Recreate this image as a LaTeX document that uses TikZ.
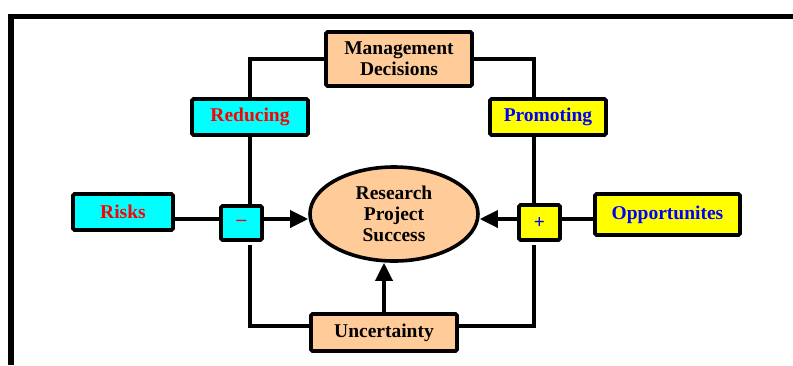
\documentclass[tikz,border=0pt]{standalone}
\usepackage{fontspec}
\setmainfont{Liberation Serif}
\usetikzlibrary{arrows.meta}
\usetikzlibrary{shapes.geometric}
\definecolor{peach}{RGB}{255,204,153}
\definecolor{aqua}{RGB}{0,255,255}
\definecolor{lemon}{RGB}{255,255,0}
\definecolor{ored}{RGB}{255,0,0}
\definecolor{oblue}{RGB}{0,0,255}

\begin{document}
\begin{tikzpicture}[x=1pt,y=-1pt,
	box/.style={draw,line width=3.6pt,rounded corners=1.5pt,inner sep=0pt,align=center,
		font=\fontsize{19.5}{21}\selectfont\bfseries},
	conn/.style={line width=3.6pt},
	arr/.style={line width=3.6pt,-{Triangle[length=18pt,width=17pt]}}]
	\useasboundingbox (0,0) rectangle (793,365);
	%	frame
	\draw[line width=5.5pt] (11,365) -- (11,16.5) -- (793,16.5);
	
	\node[box,fill=peach,minimum width=146,minimum height=54] (mgmt) at (399,59) {Management\\Decisions};
	\node[box,fill=aqua,text=ored,minimum width=116,minimum height=36] (red) at (250,117) {Reducing};
	\node[box,fill=lemon,text=oblue,minimum width=116,minimum height=36] (prom) at (548,117) {Promoting};
	\node[box,fill=aqua,text=ored,minimum width=100,minimum height=36] (risks) at (123,212) {Risks};
	\node[box,fill=aqua,text=ored,minimum width=41,minimum height=34] (minus) at (241.5,223) {--};
	\node[box,fill=lemon,text=oblue,minimum width=41,minimum height=35] (plus) at (539.5,222.5) {+};
	\node[box,fill=lemon,text=oblue,minimum width=145,minimum height=41] (opp) at (667.5,214.5) {Opportunites};
	\node[box,ellipse,fill=peach,minimum width=168,minimum height=94] (ell) at (394,214) {Research\\Project\\Success};
	\node[box,fill=peach,minimum width=146,minimum height=37] (unc) at (384,332.5) {Uncertainty};
	
	\coordinate (hl) at (0,219);
	\coordinate (lb) at (250,245);
	\coordinate (rb) at (534,245);
	
	\draw[conn] (mgmt.west) -| (red.north);
	\draw[conn] (mgmt.east) -| ([xshift=-14pt]prom.north);
	\draw[conn] (red.south) -- (red.south |- minus.north);
	\draw[conn] ([xshift=-14pt]prom.south) -- ([xshift=-14pt]prom.south |- plus.north);
	
	\draw[conn] (risks.east |- hl) -- (minus.west |- hl);
	\draw[arr] (minus.east |- hl) -- (ell.west |- hl);
	\draw[conn] (opp.west |- hl) -- (plus.east |- hl);
	\draw[arr] (plus.west |- hl) -- (ell.east |- hl);
	
	\draw[conn] ([yshift=6.5pt]unc.west) -| (lb);
	\draw[conn] ([yshift=6.5pt]unc.east) -| (rb);
	\draw[arr] (unc.north) -- (unc.north |- ell.south);
	
\end{tikzpicture}
\end{document}
